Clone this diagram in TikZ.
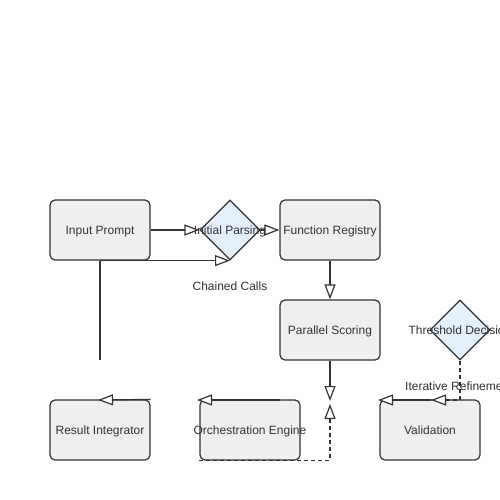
\documentclass[tikz,border=0pt]{standalone}
\usepackage{fontspec}
\setmainfont{Liberation Sans}
\usetikzlibrary{arrows.meta,shapes.geometric}
\definecolor{strokec}{HTML}{333333}
\definecolor{boxfill}{HTML}{EFEFEF}
\definecolor{diafill}{HTML}{E3F0FC}
\begin{document}
\begin{tikzpicture}[x=1pt,y=-1pt,
  box/.style={draw=strokec,fill=boxfill,line width=1.2pt,rounded corners=5pt,minimum width=100pt,minimum height=60pt,inner sep=0pt,text=strokec,font=\fontsize{12pt}{14pt}\selectfont,text height=8pt,text depth=0pt},
  dia/.style={diamond,draw=strokec,fill=diafill,line width=1.2pt,minimum width=60pt,minimum height=60pt,inner sep=0pt},
  lbl/.style={text=strokec,font=\fontsize{12pt}{14pt}\selectfont,inner sep=0pt,text height=8pt,text depth=0pt},
  edge/.style={draw=strokec,line width=1.2pt,-{Triangle[fill=white,length=15pt,width=11pt,line width=1.2pt]}},
  plain/.style={draw=strokec,line width=1.2pt},
  dedge/.style={edge,dash pattern=on 4pt off 3pt}]
\useasboundingbox (0,0) rectangle (500,500);
\fill[white] (0,0) rectangle (500,500);
% nodes
\node[box] (input) at (100,230) {Input Prompt};
\node[dia] (parse) at (230,230) {};
\node[lbl] (parsetxt) at (parse) {Initial Parsing};
\node[box] (func) at (330,230) {\makebox[0pt]{Function Registry}};
\node[box] (score) at (330,330) {Parallel Scoring};
\node[dia] (thr) at (460,330) {};
\node[lbl] (thrtxt) at (thr) {\makebox[0pt]{Threshold Decision}};
\node[box] (ri) at (100,430) {Result Integrator};
\node[box] (orch) at (250,430) {\makebox[0pt]{Orchestration Engine}};
\node[box] (val) at (430,430) {Validation};
% free ends
\coordinate (c1) at (100,360);
\coordinate (c2) at (330,401);
\coordinate (c3) at (330,404);
\coordinate (c4) at (431,400);
\coordinate (c5) at (98,400);
\coordinate (c6) at (197,400);
\coordinate (c7) at (378,400);
\coordinate (o1) at (280,400);
% connectors
\draw[edge] (input.east) -- (parse.west);
\draw[edge] (parse.east) -- (func.west);
\draw[edge] (input.south) -- (parse.south);
\draw[plain] (input.south) -- (c1);
\node[lbl] (chained) at (230,286) {Chained Calls};
\draw[edge] (func.south) -- (score.north);
\draw[edge] (score.south) -- (c2);
\draw[dedge] (orch.south west) -| (c3);
\draw[edge] (ri.north east) -- (c5);
\draw[edge] (o1) -- (c6);
\draw[dedge] (thr.south) |- (c4);
\draw[edge] (c4) -- (c7);
\node[lbl,anchor=west] (iter) at (405,386) {Iterative Refinement};
\end{tikzpicture}
\end{document}
